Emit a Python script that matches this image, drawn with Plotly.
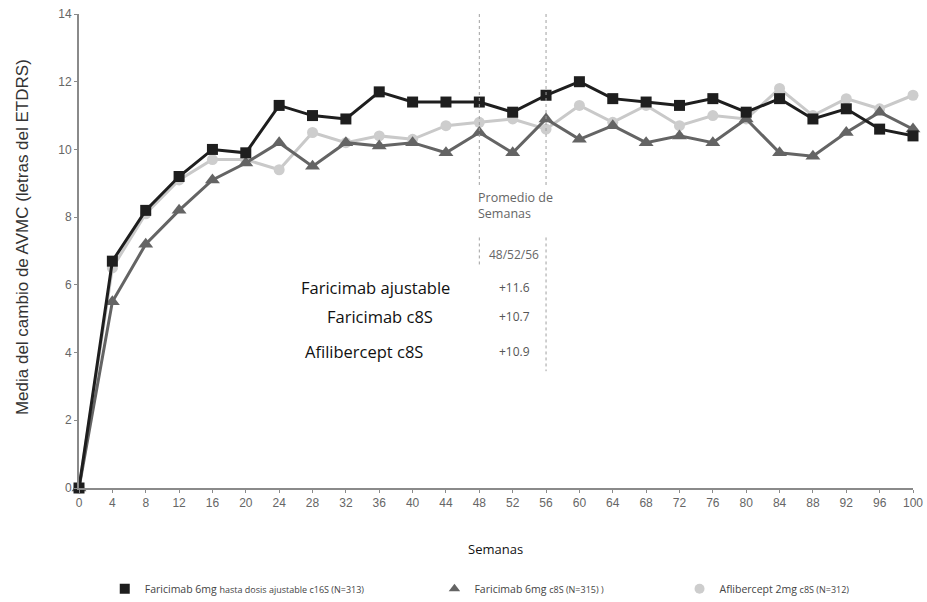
import plotly.graph_objects as go

# Weeks of follow-up
weeks = list(range(0, 101, 4))

# Mean change in BCVA (ETDRS letters) per arm
faricimab_ajustable = [0.0, 6.7, 8.2, 9.2, 10.0, 9.9, 11.3, 11.0, 10.9, 11.7, 11.4, 11.4, 11.4,
                       11.1, 11.6, 12.0, 11.5, 11.4, 11.3, 11.5, 11.1, 11.5, 10.9, 11.2, 10.6, 10.4]
faricimab_c8s = [0.0, 5.5, 7.2, 8.2, 9.1, 9.6, 10.2, 9.5, 10.2, 10.1, 10.2, 9.9, 10.5,
                 9.9, 10.9, 10.3, 10.7, 10.2, 10.4, 10.2, 10.9, 9.9, 9.8, 10.5, 11.1, 10.6]
aflibercept_c8s = [0.0, 6.5, 8.1, 9.1, 9.7, 9.7, 9.4, 10.5, 10.2, 10.4, 10.3, 10.7, 10.8,
                   10.9, 10.6, 11.3, 10.8, 11.3, 10.7, 11.0, 10.9, 11.8, 11.0, 11.5, 11.2, 11.6]

# Averages over weeks 48/52/56
avg_labels = ["Faricimab ajustable", "Faricimab c8S", "Afilibercept c8S"]
avg_values = ["+11.6", "+10.7", "+10.9"]
avg_y = [5.93, 5.07, 4.04]
label_right = [44.7, 42.7, 41.5]

NB = "&nbsp;"
legend_names = [
    "Faricimab 6mg <span style='font-size:9px'>hasta dosis ajustable c16S (N=313)</span>" + NB * 24,
    "Faricimab 6mg <span style='font-size:9px'>c8S (N=315) )</span>" + NB * 26,
    "Aflibercept 2mg <span style='font-size:9px'>c8S (N=312)</span>",
]

series = [
    (aflibercept_c8s, "circle", 11, "#c9c9c9", "#cdcdcd", 3),
    (faricimab_c8s, "triangle-up", 13, "#646464", "#646464", 2),
    (faricimab_ajustable, "square", 11, "#1e1e1e", "#1e1e1e", 1),
]

fig = go.Figure()

for values, symbol, size, lcolor, mcolor, rank in series:
    fig.add_trace(go.Scatter(
        x=weeks, y=values, mode="lines+markers", showlegend=False,
        line=dict(color=lcolor, width=3),
        marker=dict(symbol=symbol, size=size, color=mcolor),
        cliponaxis=False,
    ))

# Marker-only legend entries
for values, symbol, size, lcolor, mcolor, rank in sorted(series, key=lambda s: s[5]):
    fig.add_trace(go.Scatter(
        x=[None], y=[None], mode="markers", name=legend_names[rank - 1],
        marker=dict(symbol=symbol, size=10, color=mcolor),
        legendrank=rank,
    ))

# Dotted guides marking the 48-56 week averaging window
dot = dict(color="#a0a0a0", width=1, dash="dot")
for wx in (48, 56):
    fig.add_shape(type="line", x0=wx, x1=wx, y0=14, y1=8.95, xref="x", yref="y", line=dot)
fig.add_shape(type="line", x0=48, x1=48, y0=7.4, y1=6.6, xref="x", yref="y", line=dot)
fig.add_shape(type="line", x0=56, x1=56, y0=7.4, y1=3.45, xref="x", yref="y", line=dot)

annotations = [
    dict(x=47.6, y=8.58, text="Promedio de", xanchor="left", size=12.5),
    dict(x=47.6, y=8.11, text="Semanas", xanchor="left", size=12.5),
    dict(x=52.1, y=6.9, text="48/52/56", xanchor="center", size=12),
]
for a in annotations:
    fsize = a.pop("size")
    a.update(xref="x", yref="y", showarrow=False, yanchor="middle",
             font=dict(family="Open Sans", size=fsize, color="#666666"))

for val, yy in zip(avg_values, avg_y):
    annotations.append(dict(x=52.2, y=yy, text=val, xref="x", yref="y", showarrow=False,
                            xanchor="center", yanchor="middle",
                            font=dict(family="Open Sans", size=12, color="#555555")))
for lbl, yy, rx in zip(avg_labels, avg_y, label_right):
    annotations.append(dict(x=rx, y=yy, text=lbl, xref="x", yref="y", showarrow=False,
                            xanchor="right", yanchor="middle",
                            font=dict(family="Open Sans", size=16.5, color="#111111")))

# Axis titles
annotations.append(dict(x=-0.068, y=0.53, xref="paper", yref="paper", showarrow=False,
                        text="Media del cambio de AVMC (letras del ETDRS)", textangle=-90,
                        xanchor="center", yanchor="middle",
                        font=dict(family="Liberation Sans", size=17, color="#333333")))
annotations.append(dict(x=0.499, y=-0.129, xref="paper", yref="paper", showarrow=False,
                        text="Semanas", xanchor="center", yanchor="middle",
                        font=dict(family="Open Sans", size=13, color="#111111")))

fig.update_layout(
    width=927, height=602,
    margin=dict(l=79, r=14, t=14, b=114, autoexpand=False),
    plot_bgcolor="white", paper_bgcolor="white",
    showlegend=True,
    legend=dict(orientation="h", xref="container", yref="container",
                x=0.113, xanchor="left", y=0.022, yanchor="middle",
                font=dict(family="Open Sans", size=10.5, color="#444444"),
                itemwidth=30, tracegroupgap=0),
    annotations=annotations,
)
axis_common = dict(
    showline=True, linecolor="#8a8a8a", linewidth=2,
    ticks="outside", ticklen=3, tickcolor="#8a8a8a",
    showgrid=False, zeroline=False, automargin=False,
    tickfont=dict(family="Liberation Sans Narrow, Liberation Sans", size=12, color="#666666"),
)
fig.update_xaxes(range=[0, 100], tickmode="linear", tick0=0, dtick=4, **axis_common)
fig.update_yaxes(range=[0, 14], tickmode="linear", tick0=0, dtick=2, **axis_common)

fig.write_html("out.html")
